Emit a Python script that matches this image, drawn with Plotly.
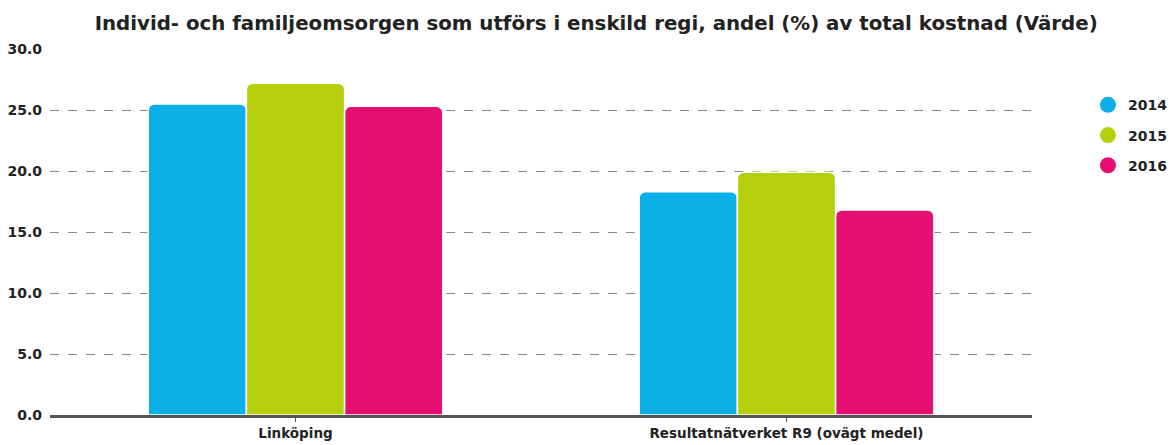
import plotly.graph_objects as go

categories = ["Linköping", "Resultatnätverket R9 (ovägt medel)"]
years = ["2014", "2015", "2016"]
values_2014 = [25.5, 18.3]
values_2015 = [27.2, 19.9]
values_2016 = [25.3, 16.8]
tick_vals = [0, 5, 10, 15, 20, 25, 30]
tick_text = ["0.0", "5.0", "10.0", "15.0", "20.0", "25.0", "30.0"]

series = [values_2014, values_2015, values_2016]
colors = ["#0bb0e6", "#b6cf0c", "#e60e70"]

FONT = "DejaVu Sans, sans-serif"

fig = go.Figure()
for name, vals, col in zip(years, series, colors):
    fig.add_trace(go.Bar(
        x=categories, y=vals, name=name, showlegend=False,
        marker=dict(color=col, line=dict(color="white", width=1.5)),
        hoverinfo="x+y",
    ))
for name, col in zip(years, colors):
    fig.add_trace(go.Scatter(
        x=[None], y=[None], mode="markers", name=f"<b>{name}</b>",
        legendgroup=name,
        marker=dict(symbol="circle", size=22, color=col),
    ))

# the page body has an 8px margin, so the figure is sized to fit the window
fig.update_layout(
    width=1167, height=437,
    paper_bgcolor="white", plot_bgcolor="white",
    margin=dict(l=42, r=143, t=41, b=30, autoexpand=False),
    barmode="group", bargap=0.4, bargroupgap=0.0,
    barcornerradius=6,
    font=dict(family=FONT, size=13, color="#222"),
    title=dict(
        text="<b>Individ- och familjeomsorgen som utförs i enskild regi, andel (%) av total kostnad (Värde)</b>",
        x=0.504, xanchor="center", y=0.966, yanchor="middle",
        font=dict(family=FONT, size=19.8, color="#222"),
    ),
    legend=dict(
        x=1.057, xanchor="left", y=0.89, yanchor="top",
        font=dict(family=FONT, size=14, color="#222"),
        itemsizing="trace", tracegroupgap=9,
        bgcolor="rgba(0,0,0,0)",
    ),
    showlegend=True,
)
fig.update_yaxes(
    range=[0, 30], tickvals=tick_vals, ticktext=[f"<b>{t}</b>" for t in tick_text],
    showgrid=True, gridcolor="#888", griddash="dash", gridwidth=1,
    zeroline=False, showline=False, ticks="", ticklabelstandoff=7,
    automargin=False,
    tickfont=dict(family=FONT, size=14, color="#222"),
)
fig.update_xaxes(
    tickvals=categories, ticktext=[f"<b>{c}</b>" for c in categories],
    showline=True, linecolor="#555", linewidth=3,
    ticks="outside", ticklen=4, tickcolor="#555",
    automargin=False,
    tickfont=dict(family=FONT, size=13.5, color="#222"),
)

fig.write_html("out.html")
